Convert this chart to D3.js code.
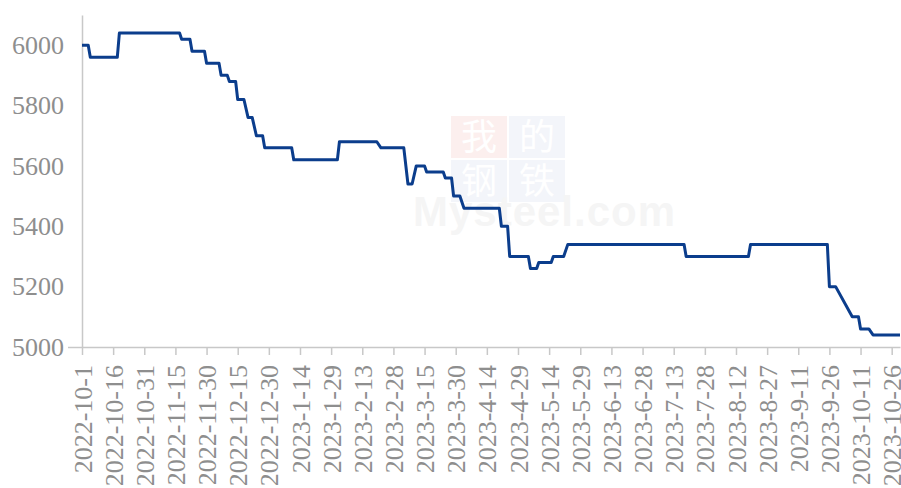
<!DOCTYPE html>
<html>
<head>
<meta charset="utf-8">
<script src="https://cdn.jsdelivr.net/npm/d3@7"></script>
<style>
  body { margin: 0; background: #fff; }
  .axis text { font-size: 26px; fill: #8e8e8e; }
  .axis path, .axis line { stroke: #c8c8c8; stroke-width: 1.5; }
  .price-line { fill: none; stroke: #0b3d8c; stroke-width: 3; stroke-linejoin: round; }
</style>
</head>
<body>
<div id="chart"></div>
<script>
// points where the price level starts / ends
const dates = [
  '2022-10-01', '2022-10-04', '2022-10-05', '2022-10-18', '2022-10-19', '2022-11-17',
  '2022-11-18', '2022-11-22', '2022-11-23', '2022-11-29', '2022-11-30', '2022-12-06',
  '2022-12-07', '2022-12-10', '2022-12-11', '2022-12-14', '2022-12-15', '2022-12-18',
  '2022-12-20', '2022-12-22', '2022-12-24', '2022-12-27', '2022-12-28', '2023-01-10',
  '2023-01-11', '2023-02-01', '2023-02-02', '2023-02-20', '2023-02-22', '2023-03-05',
  '2023-03-07', '2023-03-09', '2023-03-11', '2023-03-15', '2023-03-16', '2023-03-24',
  '2023-03-25', '2023-03-28', '2023-03-29', '2023-04-01', '2023-04-03', '2023-04-20',
  '2023-04-21', '2023-04-24', '2023-04-25', '2023-05-04', '2023-05-05', '2023-05-08',
  '2023-05-09', '2023-05-15', '2023-05-16', '2023-05-21', '2023-05-23', '2023-07-18',
  '2023-07-19', '2023-08-18', '2023-08-19', '2023-09-25', '2023-09-26', '2023-09-29',
  '2023-10-07', '2023-10-10', '2023-10-11', '2023-10-15', '2023-10-17', '2023-10-30'
];
const prices = [
  6000, 6000, 5960, 5960, 6040, 6040,
  6020, 6020, 5980, 5980, 5940, 5940,
  5900, 5900, 5880, 5880, 5820, 5820,
  5760, 5760, 5700, 5700, 5660, 5660,
  5620, 5620, 5680, 5680, 5660, 5660,
  5540, 5540, 5600, 5600, 5580, 5580,
  5560, 5560, 5500, 5500, 5460, 5460,
  5400, 5400, 5300, 5300, 5260, 5260,
  5280, 5280, 5300, 5300, 5340, 5340,
  5300, 5300, 5340, 5340, 5200, 5200,
  5100, 5100, 5060, 5060, 5040, 5040
];

const xTickLabels = [
  '2022-10-1', '2022-10-16', '2022-10-31', '2022-11-15', '2022-11-30', '2022-12-15',
  '2022-12-30', '2023-1-14', '2023-1-29', '2023-2-13', '2023-2-28', '2023-3-15',
  '2023-3-30', '2023-4-14', '2023-4-29', '2023-5-14', '2023-5-29', '2023-6-13',
  '2023-6-28', '2023-7-13', '2023-7-28', '2023-8-12', '2023-8-27', '2023-9-11',
  '2023-9-26', '2023-10-11', '2023-10-26'
];
const yTicks = [5000, 5200, 5400, 5600, 5800, 6000];

const width = 901,
      height = 488,
      margin = {top: 15, right: 1, bottom: 141, left: 82};

const chartWidth = width - margin.left - margin.right,
      chartHeight = height - margin.top - margin.bottom;

const serif = "'Liberation Serif', 'DejaVu Serif', serif";

const parseDate = d3.timeParse('%Y-%m-%d');
const parseTick = d3.timeParse('%Y-%-m-%-d');
const fmtTick = d3.timeFormat('%Y-%-m-%-d');

const data = dates.map((d, i) => ({date: parseDate(d), value: prices[i]}));

const svg = d3.select('#chart').append('svg')
    .attr('width', width)
    .attr('height', height);

// watermark
const wm = svg.append('g').attr('class', 'watermark');
wm.append('rect').attr('x', 451).attr('y', 116).attr('width', 56).attr('height', 42).attr('fill', '#fcefee');
wm.append('rect').attr('x', 509).attr('y', 116).attr('width', 56).attr('height', 42).attr('fill', '#f3f5fa');
wm.append('rect').attr('x', 451).attr('y', 160).attr('width', 56).attr('height', 42).attr('fill', '#f3f5fa');
wm.append('rect').attr('x', 509).attr('y', 160).attr('width', 56).attr('height', 42).attr('fill', '#f3f5fa');
wm.selectAll('.wm-char')
    .data([['我', 479, 137], ['的', 537, 137], ['钢', 479, 181], ['铁', 537, 181]])
    .enter().append('text')
    .attr('x', d => d[1])
    .attr('y', d => d[2])
    .attr('dy', '0.36em')
    .attr('text-anchor', 'middle')
    .style('font-family', '"Noto Sans CJK SC", sans-serif')
    .style('font-size', '36px')
    .style('fill', '#ffffff')
    .text(d => d[0]);
wm.append('text')
    .attr('x', 413)
    .attr('y', 226)
    .attr('textLength', 262)
    .style('font-family', '"Liberation Sans", Arial, sans-serif')
    .style('font-weight', 'bold')
    .style('font-size', '42px')
    .style('fill', '#f5f5f5')
    .text('Mysteel.com');

const chart = svg.append('g')
    .attr('transform', `translate(${margin.left}, ${margin.top})`);

let x = d3.scaleTime()
    .domain([parseDate('2022-10-01'), parseDate('2023-10-30')])
    .range([0, chartWidth]);

let y = d3.scaleLinear()
    .domain([5000, 6100])
    .range([chartHeight, 0]);

let xAxis = d3.axisBottom(x)
    .tickValues(xTickLabels.map(parseTick))
    .tickFormat(fmtTick)
    .tickSizeInner(8)
    .tickSizeOuter(0);

let gx = chart.append('g')
    .attr('class', 'axis axis--x')
    .attr('transform', `translate(0, ${chartHeight})`)
    .call(xAxis);

gx.selectAll('text')
    .attr('transform', 'rotate(-90)')
    .attr('x', -18)
    .attr('y', 0)
    .attr('dy', '0.35em')
    .style('text-anchor', 'end');

let yAxis = d3.axisLeft(y)
    .tickValues(yTicks)
    .tickFormat(d3.format('d'))
    .tickSizeInner(0)
    .tickSizeOuter(0)
    .tickPadding(18);

let gy = chart.append('g')
    .attr('class', 'axis axis--y')
    .call(yAxis);

// only the bottom tick shows a small mark
gy.selectAll('.tick line').filter(d => d === 5000).attr('x2', -14);

svg.selectAll('.axis text').style('font-family', serif);

let line = d3.line()
    .x(d => x(d.date))
    .y(d => y(d.value));

chart.append('path')
    .datum(data)
    .attr('class', 'price-line')
    .attr('d', line);
</script>
</body>
</html>
